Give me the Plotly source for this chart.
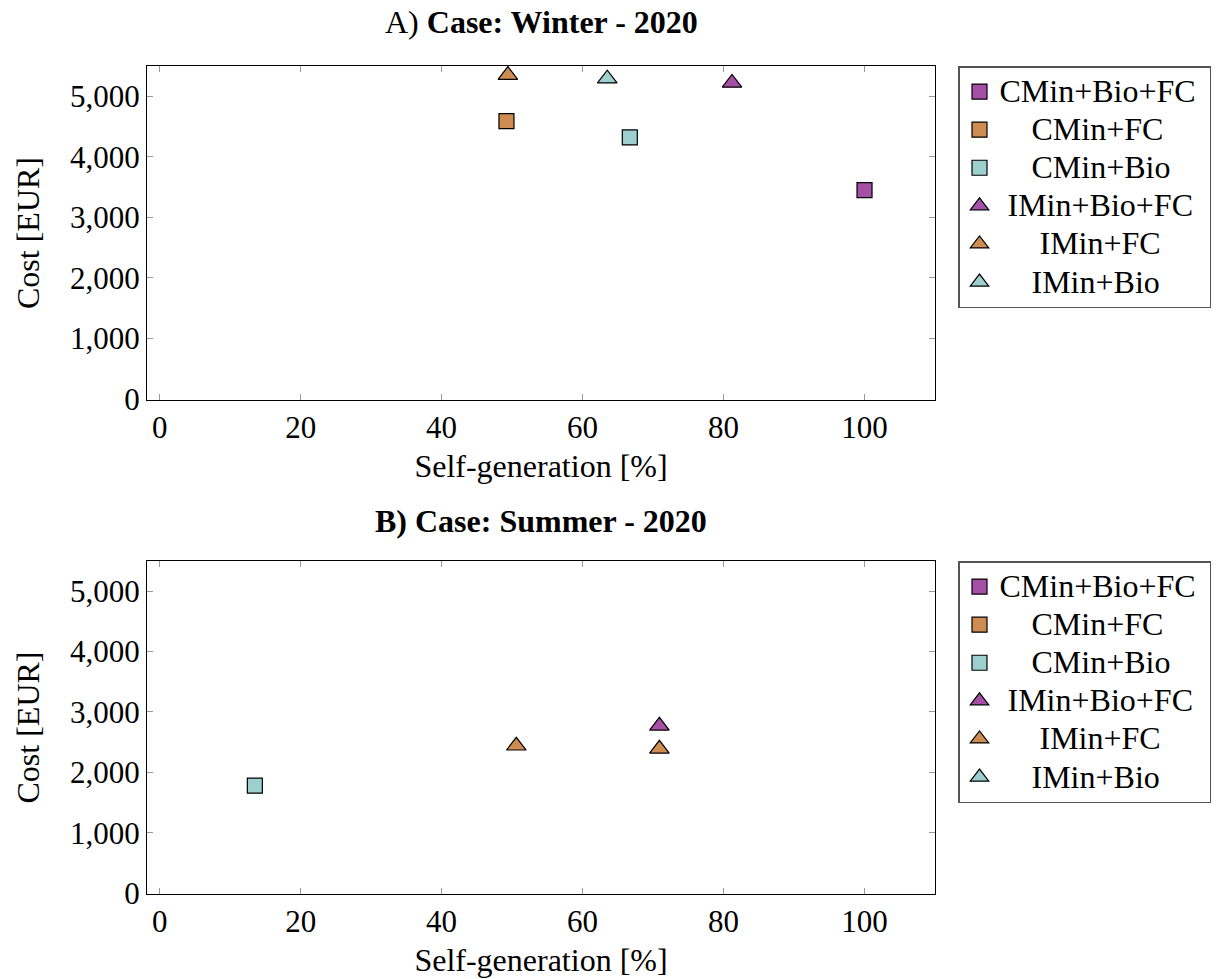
import plotly.graph_objects as go

# ---------------- data ----------------
series_names = ["CMin+Bio+FC", "CMin+FC", "CMin+Bio", "IMin+Bio+FC", "IMin+FC", "IMin+Bio"]
series_symbols = ["square", "square", "square", "triangle-up", "triangle-up", "triangle-up"]
series_colors = ["#a64fa6", "#cc8c52", "#9dcfcf", "#a64fa6", "#cc8c52", "#9dcfcf"]

# Winter 2020 (x: self-generation %, y: cost EUR)
winter_x = [[100.0], [49.2], [66.7], [81.2], [49.4], [63.5]]
winter_y = [[3450], [4590], [4320], [5220], [5350], [5290]]

# Summer 2020
summer_x = [[], [], [13.5], [70.9], [50.6, 70.9], []]
summer_y = [[], [], [1780], [2770], [2440, 2390], []]

x_ticks = [0, 20, 40, 60, 80, 100]
y_ticks = [0, 1000, 2000, 3000, 4000, 5000]

titles = ["A) <b>Case: Winter - 2020</b>", "<b>B) Case: Summer - 2020</b>"]
x_title = "Self-generation [%]"
y_title = "Cost [EUR]"

# -------------- figure ----------------
W, H = 1218, 979
FONT = "Liberation Serif"
NB = "\u00a0"

def px_x(p):
    return p / W

def px_y(p):
    return 1 - p / H

pads = [0, 4, 4, 1, 5, 4]
legend_labels = [
    '<span style="font-size:32px">' + NB * p + n + NB + "</span>"
    for p, n in zip(pads, series_names)
]

fig = go.Figure()

for panel, (xs, ys) in enumerate([(winter_x, winter_y), (summer_x, summer_y)]):
    xa = "x" if panel == 0 else "x2"
    ya = "y" if panel == 0 else "y2"
    lg = "legend" if panel == 0 else "legend2"
    for i, name in enumerate(series_names):
        xv = xs[i] if xs[i] else [None]
        yv = ys[i] if ys[i] else [None]
        fig.add_trace(go.Scatter(
            x=xv, y=yv, mode="markers", name=legend_labels[i],
            xaxis=xa, yaxis=ya, legend=lg,
            marker=dict(symbol=series_symbols[i], color=series_colors[i],
                        size=15 if series_symbols[i] == "square" else 17,
                        line=dict(color="black", width=1.2)),
            hoverinfo="skip",
        ))

axis_common = dict(
    showgrid=False, zeroline=False, showline=True, linecolor="black", linewidth=1.2,
    mirror="ticks", ticks="inside", ticklen=6, tickcolor="#999999", tickwidth=1,
    tickfont=dict(family=FONT, size=31, color="black"), automargin=False,
)

x_dom = [px_x(147), px_x(935)]
y_doms = [[px_y(400), px_y(66)], [px_y(894), px_y(561)]]

for k in range(2):
    sx = "" if k == 0 else "2"
    fig.update_layout(**{
        f"xaxis{sx}": dict(axis_common, domain=x_dom, range=[-1.8, 110],
                           tickvals=x_ticks, anchor=f"y{sx}",
                           title=dict(text=x_title, font=dict(family=FONT, size=32, color="black"), standoff=10)),
        f"yaxis{sx}": dict(axis_common, domain=y_doms[k], range=[-15, 5500],
                           tickvals=y_ticks, tickformat=",d", anchor=f"x{sx}",
                           title=dict(text=y_title, font=dict(family=FONT, size=32, color="black"), standoff=20)),
    })

legend_common = dict(
    font=dict(family=FONT, size=27, color="black"),
    bgcolor="white", bordercolor="#555555", borderwidth=1.5,
    xanchor="left", yanchor="top", itemwidth=30, tracegroupgap=0,
)

fig.update_layout(
    width=W, height=H,
    margin=dict(l=0, r=0, t=0, b=0),
    paper_bgcolor="white", plot_bgcolor="white",
    legend=dict(legend_common, x=px_x(958), y=px_y(66)),
    legend2=dict(legend_common, x=px_x(958), y=px_y(561)),
    annotations=[
        dict(text=titles[0], x=(x_dom[0] + x_dom[1]) / 2, y=px_y(22), xref="paper", yref="paper",
             showarrow=False, xanchor="center", yanchor="middle",
             font=dict(family=FONT, size=32, color="black")),
        dict(text=titles[1], x=(x_dom[0] + x_dom[1]) / 2, y=px_y(521), xref="paper", yref="paper",
             showarrow=False, xanchor="center", yanchor="middle",
             font=dict(family=FONT, size=32, color="black")),
    ],
)

fig.write_html("out.html")
